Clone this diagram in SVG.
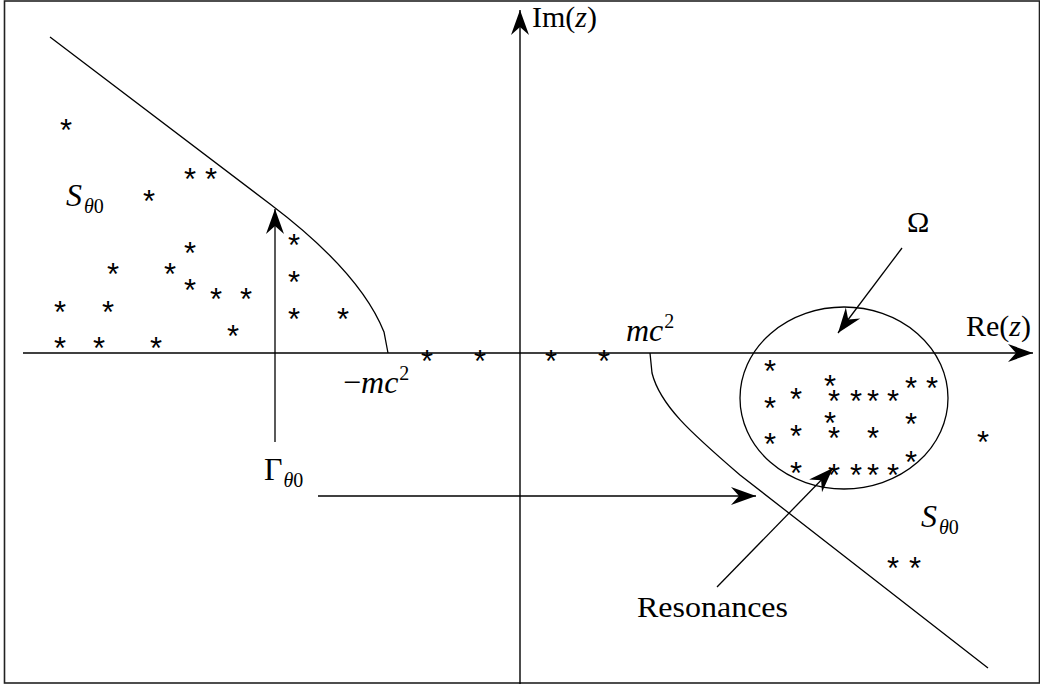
<svg xmlns="http://www.w3.org/2000/svg" width="1040" height="685" viewBox="0 0 1040 685">
  <style>
    .ln { fill: none; stroke: #000; stroke-width: 1.3; }
    .ax { fill: none; stroke: #000; stroke-width: 1.4; }
    .arr { marker-end: url(#ah); }
    .tx { font-family: "Liberation Serif", "DejaVu Serif", serif; font-size: 30px; fill: #000; }
    .mt { font-size: 32px; }
    .it { font-style: italic; }
    .sub { font-size: 20px; }
    .st { font-family: "Liberation Sans", "DejaVu Sans", sans-serif; font-size: 31px; fill: #000; text-anchor: middle; }
  </style>
  <defs>
    <marker id="ah" markerUnits="userSpaceOnUse" markerWidth="30" markerHeight="24" viewBox="-27 -12 30 24" refX="0" refY="0" orient="auto">
      <path d="M0,0 L-25,-9 L-17,0 L-25,9 Z" fill="#000"/>
    </marker>
  </defs>
  <rect width="1040" height="685" fill="#fff"/>
  <rect id="frame" x="4.5" y="1" width="1035" height="682" fill="none" stroke="#222" stroke-width="1.6"/>

  <g id="connectors">
    <line class="ax arr" x1="23" y1="353" x2="1033" y2="353"/>
    <line class="ax arr" x1="520" y1="684" x2="520" y2="10"/>
    <line class="ln arr" x1="275" y1="442" x2="275" y2="209"/>
    <line class="ln arr" x1="318" y1="496" x2="756" y2="496"/>
    <line class="ln arr" x1="902" y1="248" x2="838" y2="333"/>
    <line class="ln arr" x1="717" y1="587" x2="833" y2="468"/>
  </g>

  <g id="curves">
    <path id="left-branch" class="ln" d="M50,37 L270,204 Q360,272 384,332 L388,353"/>
    <path id="right-branch" class="ln" d="M650,353 L652,373 C660,405 690,432 740,475 L988,668"/>
    <ellipse id="omega-region" class="ln" cx="844" cy="398" rx="104" ry="91"/>
  </g>

  <g id="stars-left" class="st">
    <text x="66" y="141">*</text>
    <text x="190" y="190">*</text>
    <text x="211" y="190">*</text>
    <text x="149" y="212">*</text>
    <text x="190" y="264">*</text>
    <text x="113" y="285">*</text>
    <text x="170" y="285">*</text>
    <text x="190" y="301">*</text>
    <text x="216" y="310">*</text>
    <text x="246" y="310">*</text>
    <text x="60" y="323">*</text>
    <text x="108" y="323">*</text>
    <text x="233" y="347">*</text>
    <text x="60" y="359">*</text>
    <text x="99" y="359">*</text>
    <text x="156" y="359">*</text>
    <text x="294" y="256">*</text>
    <text x="294" y="293">*</text>
    <text x="294" y="330">*</text>
    <text x="343" y="330">*</text>
  </g>

  <g id="stars-axis" class="st">
    <text x="427" y="372">*</text>
    <text x="480" y="372">*</text>
    <text x="551" y="372">*</text>
    <text x="604" y="372">*</text>
  </g>

  <g id="stars-omega" class="st">
    <text x="770" y="382">*</text>
    <text x="830" y="397">*</text>
    <text x="911" y="399">*</text>
    <text x="932" y="399">*</text>
    <text x="796" y="410">*</text>
    <text x="834" y="412">*</text>
    <text x="856" y="412">*</text>
    <text x="873" y="412">*</text>
    <text x="893" y="412">*</text>
    <text x="770" y="419">*</text>
    <text x="830" y="434">*</text>
    <text x="911" y="435">*</text>
    <text x="796" y="447">*</text>
    <text x="834" y="449">*</text>
    <text x="873" y="449">*</text>
    <text x="770" y="455">*</text>
    <text x="911" y="473">*</text>
    <text x="796" y="484">*</text>
    <text x="834" y="486">*</text>
    <text x="856" y="486">*</text>
    <text x="873" y="486">*</text>
    <text x="893" y="486">*</text>
  </g>

  <g id="stars-right" class="st">
    <text x="983" y="453">*</text>
    <text x="893" y="579">*</text>
    <text x="915" y="579">*</text>
  </g>

  <g id="label-im">
    <text class="tx" x="532" y="27">Im(<tspan class="it">z</tspan>)</text>
  </g>
  <g id="label-re">
    <text class="tx" x="966" y="336">Re(<tspan class="it">z</tspan>)</text>
  </g>
  <g id="label-s-left">
    <text class="tx mt" x="66" y="206"><tspan class="it">S</tspan><tspan class="sub it" dx="2" dy="7">θ</tspan><tspan class="sub">0</tspan></text>
  </g>
  <g id="label-s-right">
    <text class="tx mt" x="921" y="527"><tspan class="it">S</tspan><tspan class="sub it" dx="2" dy="7">θ</tspan><tspan class="sub">0</tspan></text>
  </g>
  <g id="label-gamma">
    <text class="tx mt" x="264" y="480">Γ<tspan class="sub it" dx="1" dy="7">θ</tspan><tspan class="sub">0</tspan></text>
  </g>
  <g id="label-neg-mc2">
    <text class="tx mt" x="343" y="393">−<tspan class="it">mc</tspan><tspan class="sub" dx="1" dy="-13">2</tspan></text>
  </g>
  <g id="label-mc2">
    <text class="tx mt" x="626" y="341"><tspan class="it">mc</tspan><tspan class="sub" dx="1" dy="-13">2</tspan></text>
  </g>
  <g id="label-omega">
    <text class="tx" x="907" y="232">Ω</text>
  </g>
  <g id="label-resonances">
    <text class="tx" x="637" y="617" textLength="151" lengthAdjust="spacingAndGlyphs">Resonances</text>
  </g>
</svg>
